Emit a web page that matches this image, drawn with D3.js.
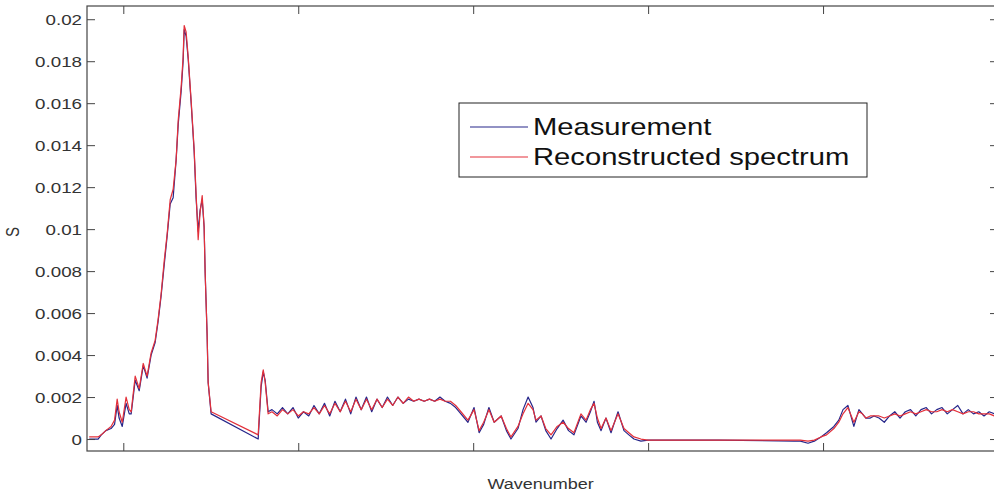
<!DOCTYPE html>
<html>
<head>
<meta charset="utf-8">
<script src="https://cdn.jsdelivr.net/npm/d3@7"></script>
<style>
  body { margin: 0; background: #fff; }
  svg { display: block; font-family: "Liberation Sans", Arial, sans-serif; }
</style>
</head>
<body>
<div id="chart_div"></div>
<script>
const wavenumber = [
  680.5, 683.0, 685.6, 687.4, 690.0, 693.0, 695.0, 696.5, 697.6, 699.4,
  701.6, 703.4, 704.5, 706.8, 709.1, 711.4, 713.6, 715.9, 718.2, 719.9,
  721.6, 723.4, 725.1, 726.8, 728.5, 730.2, 731.4, 733.1, 734.2, 734.8,
  735.9, 737.1, 738.8, 740.5, 741.6, 742.8, 743.9, 745.1, 746.2, 746.8,
  747.9, 748.5, 750.2, 777.1, 778.8, 780.0, 781.1, 782.8,
  785, 788, 791, 794, 797, 800, 803, 806, 809, 812,
  815, 818, 821, 824, 827, 830, 833, 836, 839, 842,
  845, 848, 851, 854, 857, 860, 863, 866, 869, 872,
  875, 878, 881, 884, 887, 890, 893, 897, 900.5, 903.4,
  906, 909, 912, 916, 919, 921.6, 925.6, 928.5, 931.4, 934.2,
  935.9, 938.8, 941.5, 944.5, 948, 951.4, 954.5, 957.6, 961.6, 964.5,
  967, 969.1, 971, 973.1, 975.9, 978.8, 982.8, 986.2, 989, 991.9,
  995.9, 999.9, 1040, 1083.4, 1087, 1091.4, 1095, 1098.8, 1102, 1106.2,
  1109, 1111.4, 1114.2, 1117.6, 1120.5, 1122.5, 1124.5, 1127, 1129.1,
  1132, 1135, 1138, 1141, 1144, 1147, 1150, 1153, 1156, 1159,
  1162, 1165, 1168, 1171, 1174, 1177, 1180, 1183, 1186, 1189,
  1192, 1195, 1198
];

const measurement = [
  0.0000, 0.0000, 0.0000, 0.0002, 0.0004, 0.0005, 0.0007, 0.0016, 0.0010, 0.0006,
  0.0017, 0.0012, 0.0012, 0.0028, 0.0023, 0.0035, 0.0029, 0.0040, 0.0046, 0.0056,
  0.0068, 0.0083, 0.0097, 0.0112, 0.0115, 0.0133, 0.0150, 0.0166, 0.0180, 0.0195,
  0.0192, 0.0181, 0.0160, 0.0137, 0.0115, 0.0099, 0.0109, 0.0114, 0.0101, 0.0079,
  0.0050, 0.0027, 0.0012, 0.0000, 0.0025, 0.0032, 0.0028, 0.0013,
  0.0014, 0.0012, 0.0015, 0.0012, 0.0015, 0.0010, 0.0013, 0.0011, 0.0016, 0.0012,
  0.0017, 0.0011, 0.0018, 0.0013, 0.0019, 0.0012, 0.0020, 0.0014, 0.0020, 0.0013,
  0.0019, 0.0015, 0.0020, 0.0016, 0.0020, 0.0017, 0.0019, 0.0018, 0.0019, 0.0018,
  0.0019, 0.0018, 0.0020, 0.0018, 0.0017, 0.0015, 0.0012, 0.0008, 0.0015, 0.0003,
  0.0007, 0.0015, 0.0008, 0.0011, 0.0004, 0.0000, 0.0005, 0.0014, 0.0020, 0.0015,
  0.0008, 0.0011, 0.0004, 0.0000, 0.0005, 0.0009, 0.0004, 0.0002, 0.0011, 0.0008,
  0.0013, 0.0018, 0.0008, 0.0004, 0.0010, 0.0003, 0.0013, 0.0004, 0.0002, 0.0000,
  -0.0001, -0.00005, -0.00005, -0.0001, -0.0001, -0.0002, -0.0001, 0.0001, 0.0003, 0.0006,
  0.0009, 0.0014, 0.0016, 0.0006, 0.0014, 0.0012, 0.0010, 0.0010, 0.0011,
  0.0010, 0.0008, 0.0011, 0.0013, 0.0010, 0.0013, 0.0014, 0.0011, 0.0014, 0.0015,
  0.0012, 0.0014, 0.0015, 0.0012, 0.0014, 0.0016, 0.0012, 0.0014, 0.0012, 0.0013,
  0.0011, 0.0013, 0.0012
];

const reconstructed = [
  0.0001, 0.0001, 0.0001, 0.0002, 0.0004, 0.0006, 0.0009, 0.0019, 0.0013, 0.0008,
  0.0020, 0.0014, 0.0013, 0.0030, 0.0024, 0.0036, 0.0030, 0.0041, 0.0047, 0.0057,
  0.0069, 0.0085, 0.0098, 0.0114, 0.0119, 0.0133, 0.0152, 0.0168, 0.0182, 0.0197,
  0.0194, 0.0182, 0.0161, 0.0138, 0.0117, 0.0095, 0.0108, 0.0116, 0.0101, 0.0079,
  0.0050, 0.0027, 0.0013, 0.0002, 0.0027, 0.0033, 0.0027, 0.0012,
  0.0013, 0.0011, 0.0014, 0.0012, 0.0014, 0.0011, 0.0013, 0.0012, 0.0015, 0.0012,
  0.0016, 0.0012, 0.0017, 0.0013, 0.0018, 0.0013, 0.0019, 0.0014, 0.0019, 0.0014,
  0.0019, 0.0015, 0.0019, 0.0016, 0.0020, 0.0017, 0.0020, 0.0018, 0.0019, 0.0018,
  0.0019, 0.0018, 0.0019, 0.0018, 0.0018, 0.0016, 0.0013, 0.0009, 0.0014, 0.0004,
  0.0008, 0.0014, 0.0008, 0.0011, 0.0005, 0.0001, 0.0006, 0.0012, 0.0017, 0.0014,
  0.0009, 0.0011, 0.0005, 0.0002, 0.0006, 0.0008, 0.0005, 0.0003, 0.0012, 0.0009,
  0.0014, 0.0017, 0.0010, 0.0005, 0.0010, 0.0004, 0.0012, 0.0005, 0.0003, 0.0001,
  0.0000, -0.00005, -0.00005, -0.00005, -0.00005, -0.0001, -0.00005, 0.0001, 0.0002, 0.0005,
  0.0008, 0.0012, 0.0015, 0.0008, 0.0013, 0.0012, 0.0010, 0.0011, 0.0011,
  0.0011, 0.0010, 0.0011, 0.0012, 0.0011, 0.0012, 0.0013, 0.0012, 0.0013, 0.0014,
  0.0013, 0.0013, 0.0014, 0.0013, 0.0014, 0.0013, 0.0012, 0.0013, 0.0013, 0.0012,
  0.0012, 0.0012, 0.0011
];

const seriesNames = ["Measurement", "Reconstructed spectrum"];
const seriesColors = ["#26268a", "#e3303a"];
const xTicks = [700, 800, 900, 1000, 1100];
const yTicks = [0, 0.002, 0.004, 0.006, 0.008, 0.01, 0.012, 0.014, 0.016, 0.018, 0.02];

// Chart dimensions (the original figure is stretched sideways a bit)
const width = 994;
const height = 498;
const plotLeft = 87;
const plotRight = 998;
const plotTop = 6;
const plotBottom = 451;
const stretch = 1.25; // horizontal stretch of the text
const tickLen = 8;

const x = d3.scaleLinear().domain([679.25, 1200]).range([plotLeft, plotRight]);
const y = d3.scaleLinear().domain([-0.00057, 0.02063]).range([plotBottom, plotTop]);

const svg = d3.select("#chart_div").append("svg")
  .attr("width", width)
  .attr("height", height);

svg.append("defs").append("clipPath")
  .attr("id", "plot-clip")
  .append("rect")
  .attr("x", plotLeft)
  .attr("y", plotTop)
  .attr("width", plotRight - plotLeft)
  .attr("height", plotBottom - plotTop);

// Lines: measurement first, reconstruction on top
const series = [measurement, reconstructed];
const line = d3.line()
  .x((d, i) => x(wavenumber[i]))
  .y(d => y(d));

const gLines = svg.append("g").attr("clip-path", "url(#plot-clip)");
series.forEach((values, k) => {
  gLines.append("path")
    .datum(values)
    .attr("fill", "none")
    .attr("stroke", seriesColors[k])
    .attr("stroke-width", 1.2)
    .attr("stroke-linejoin", "round")
    .attr("d", line);
});

// Axes, MATLAB-style box with inward ticks
function styleAxis(g) {
  g.select(".domain").remove();
  g.selectAll(".tick line").attr("stroke", "#444");
}

svg.append("g")
  .attr("transform", `translate(0,${plotBottom})`)
  .call(d3.axisBottom(x).tickValues(xTicks).tickSize(-tickLen).tickFormat(""))
  .call(styleAxis);

svg.append("g")
  .attr("transform", `translate(0,${plotTop})`)
  .call(d3.axisTop(x).tickValues(xTicks).tickSize(-tickLen).tickFormat(""))
  .call(styleAxis);

svg.append("g")
  .attr("transform", `translate(${plotRight},0)`)
  .call(d3.axisRight(y).tickValues(yTicks).tickSize(-tickLen).tickFormat(""))
  .call(styleAxis);

const yAxis = svg.append("g")
  .attr("transform", `translate(${plotLeft},0)`)
  .call(d3.axisLeft(y).tickValues(yTicks).tickSize(-tickLen).tickFormat(d => String(+d.toFixed(3))))
  .call(styleAxis);

yAxis.selectAll(".tick text")
  .attr("x", 0)
  .attr("dy", "0.35em")
  .attr("transform", `translate(-5,0) scale(${stretch},1)`)
  .attr("fill", "#333")
  .attr("font-size", 15)
  .attr("font-family", "Liberation Sans, Arial, sans-serif")
  .attr("text-anchor", "end");

// Box outline
svg.append("rect")
  .attr("x", plotLeft)
  .attr("y", plotTop)
  .attr("width", plotRight - plotLeft)
  .attr("height", plotBottom - plotTop)
  .attr("fill", "none")
  .attr("stroke", "#444")
  .attr("stroke-width", 1.2);

// Axis titles
svg.append("text")
  .attr("transform", `translate(${(plotLeft + plotRight) / 2 - 2},489) scale(1.2,1)`)
  .attr("text-anchor", "middle")
  .attr("font-size", 15)
  .attr("fill", "#333")
  .text("Wavenumber");

svg.append("text")
  .attr("transform", "translate(19,232) rotate(-90) scale(1,1.2)")
  .attr("text-anchor", "middle")
  .attr("font-size", 15)
  .attr("fill", "#333")
  .text("S");

// Legend
const legend = svg.append("g");
legend.append("rect")
  .attr("x", 459)
  .attr("y", 103)
  .attr("width", 408)
  .attr("height", 74)
  .attr("fill", "#fff")
  .attr("stroke", "#222")
  .attr("stroke-width", 1);

seriesNames.forEach((name, i) => {
  const ly = 127 + i * 30;
  legend.append("line")
    .attr("x1", 470)
    .attr("x2", 528)
    .attr("y1", ly)
    .attr("y2", ly)
    .attr("stroke", seriesColors[i])
    .attr("stroke-width", 1.2);
  legend.append("text")
    .attr("transform", `translate(533,${ly + 8}) scale(1.27,1)`)
    .attr("font-size", 23)
    .attr("fill", "#111")
    .text(name);
});
</script>
</body>
</html>
